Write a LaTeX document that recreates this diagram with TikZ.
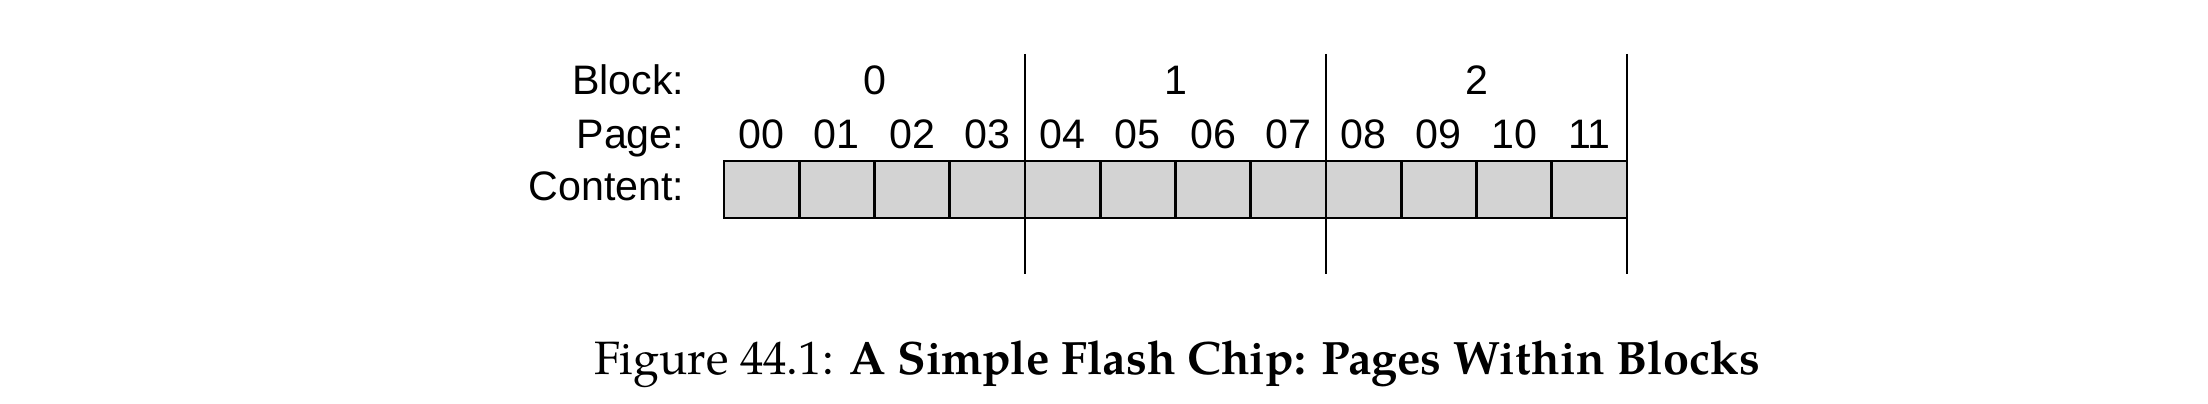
\documentclass[tikz,border=0pt]{standalone}
\usepackage{fontspec}
\newfontfamily\labfont{Liberation Sans}
\IfFontExistsTF{TeX Gyre Pagella}{\newfontfamily\capfont{TeX Gyre Pagella}}{\newfontfamily\capfont{Liberation Serif}}
\definecolor{cellgray}{RGB}{211,211,211}
\begin{document}
\begin{tikzpicture}[x=0.25pt,y=-0.25pt,
  lab/.style={inner sep=0pt, font=\labfont\fontsize{10.3}{11}\selectfont},
  cell/.style={draw=black, fill=cellgray, line width=0.675pt, minimum width=18.8125pt, minimum height=14.25pt, inner sep=0pt, outer sep=0pt, anchor=north west},
  divline/.style={draw=black, line width=0.675pt},
  captxt/.style={inner sep=0pt, font=\capfont\fontsize{11.7}{13}\selectfont}]
\useasboundingbox (0,0) rectangle (2208,404);
% row labels
\node[lab, anchor=base east] (lblock) at (685,95) {Block:};
\node[lab, anchor=base east] (lpage) at (685,149) {Page:};
\node[lab, anchor=base east] (lcontent) at (685,201) {Content:};
% cells and page numbers
\foreach \i/\t in {0/00,1/01,2/02,3/03,4/04,5/05,6/06,7/07,8/08,9/09,10/10,11/11}{
  \node[cell] (c\i) at ({724+75.25*\i},161) {};
  \node[lab, anchor=base] (p\i) at ({724+75.25*\i+37.625},149) {\t};
}
% block numbers
\foreach \b in {0,1,2}{
  \node[lab, anchor=base] (b\b) at ({724+301*\b+150.5},95) {\b};
}
% block dividers
\foreach \k/\x in {1/1025,2/1326,3/1627}{
  \coordinate (dt\k) at (\x,54);
  \coordinate (db\k) at (\x,274);
  \draw[divline] (dt\k) -- (db\k);
}
% caption
\node[captxt, anchor=base west] (cap) at (594,375) {Figure 44.1: \textbf{A Simple Flash Chip: Pages Within Blocks}};
\end{tikzpicture}
\end{document}
